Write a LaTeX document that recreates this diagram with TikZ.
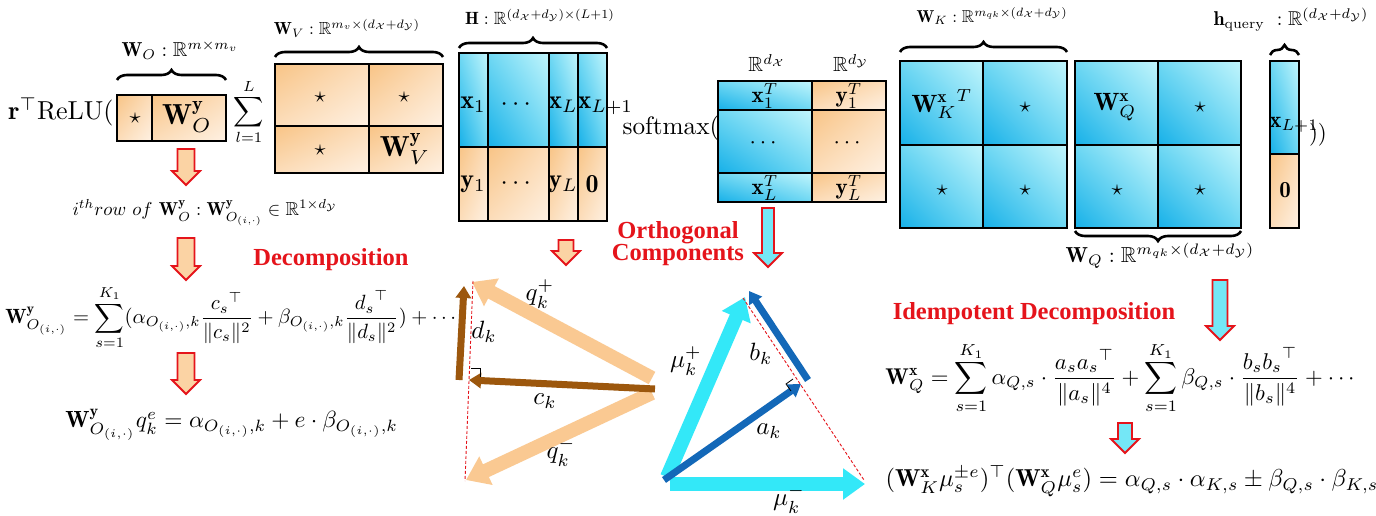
\RequirePackage{fix-cm}
\documentclass[tikz,border=0pt]{standalone}
\usepackage{amsmath,amssymb}
\usepackage{fontspec}
\newfontfamily\tnr{Liberation Serif}
\usetikzlibrary{arrows.meta,decorations.pathreplacing,shadings}
\definecolor{oD}{HTML}{F8C486}
\definecolor{oM}{HTML}{FCDDBA}
\definecolor{oL}{HTML}{FEF1E3}
\definecolor{bD}{HTML}{16B0E8}
\definecolor{bM}{HTML}{6FD8F3}
\definecolor{bL}{HTML}{C2F5FC}
\definecolor{myred}{HTML}{E5141B}
\definecolor{vor}{HTML}{FAC992}
\definecolor{vbr}{HTML}{9C570D}
\definecolor{vcy}{HTML}{33E8F8}
\definecolor{vbl}{HTML}{1368B8}
\definecolor{afo}{HTML}{FBD3A4}
\definecolor{afc}{HTML}{74E7F6}
\newcommand{\Bw}{\mathbf{W}}
\newcommand{\Oi}{O_{(i,\cdot)}}
\newcommand{\dX}{d_{\mathcal{X}}}
\newcommand{\dY}{d_{\mathcal{Y}}}
\newcommand{\blockarr}[5]{%
  \draw[myred, line width=1.8pt, fill=#5]
   (#1-#4/2,#2) -- (#1+#4/2,#2) -- (#1+#4/2,#3-14) -- (#1+14,#3-14) -- (#1,#3)
   -- (#1-14,#3-14) -- (#1-#4/2,#3-14) -- cycle;}
\tikzset{
  ocell/.style={draw=black, line width=1.3pt, shade, upper left=oD, lower right=oL, upper right=oM, lower left=oM},
  bcell/.style={draw=black, line width=1.3pt, shade, lower left=bD, upper right=bL, upper left=bM, lower right=bM},
  fs/.style={inner sep=0pt, font=\fontsize{10}{12}\selectfont, scale=#1/10},
  redt/.style={inner sep=0pt, text=myred, font=\fontsize{24.5}{22}\selectfont\tnr\bfseries, align=center},
  brc/.style={decorate, decoration={brace, amplitude=10pt}, line width=2.6pt},
  oarr/.style={draw=vor, line width=14pt, -{Triangle[width=30pt,length=22pt]}},
  carr/.style={draw=vcy, line width=14pt, -{Triangle[width=30pt,length=22pt]}},
  brarr/.style={draw=vbr, line width=7pt, -{Triangle[width=15pt,length=12pt]}},
  blarr/.style={draw=vbl, line width=7pt, -{Triangle[width=15pt,length=12pt]}},
  rdash/.style={draw=myred, line width=0.9pt, dash pattern=on 3pt off 2pt},
}
\begin{document}
\begin{tikzpicture}[x=1pt,y=-1pt]
\useasboundingbox[fill=white] (0,0) rectangle (1376,516);

% ---------- left part: r ReLU( W_O sum W_V
\node[fs=26] (relu) at (61,112) {$\mathbf{r}^{\top}\mathrm{ReLU}($};
\path[ocell] (117,95) rectangle (152,141);
\path[ocell] (152,95) rectangle (226,141);
\node[fs=22] (wo1) at (135,118) {$\star$};
\node[fs=29] (wo2) at (187,117) {$\Bw^{\mathbf{y}}_O$};
\draw[brc] (117,80) -- (226,80);
\node[fs=20.2] (wol) at (180,50) {$\Bw_O:\mathbb{R}^{m\times m_v}$};
\node[fs=21] (sum1) at (249,112) {$\displaystyle\sum_{l=1}^{L}$};

\path[ocell] (275,64) rectangle (369,126);
\path[ocell] (369,64) rectangle (443,126);
\path[ocell] (275,126) rectangle (369,173);
\path[ocell] (369,126) rectangle (443,173);
\node[fs=22] (wv1) at (320,97) {$\star$};
\node[fs=22] (wv2) at (404,97) {$\star$};
\node[fs=22] (wv3) at (320,150) {$\star$};
\node[fs=29] (wv4) at (405,149) {$\Bw^{\mathbf{y}}_V$};
\draw[brc] (275,57) -- (443,57);
\node[fs=17.5] (wvl) at (347,28) {$\Bw_V:\mathbb{R}^{m_v\times(\dX+\dY)}$};

% ---------- H
\path[bcell] (459,53) rectangle (488,147);
\path[bcell] (488,53) rectangle (549,147);
\path[bcell] (549,53) rectangle (578,147);
\path[bcell] (578,53) rectangle (607,147);
\path[ocell] (459,147) rectangle (488,221);
\path[ocell] (488,147) rectangle (549,221);
\path[ocell] (549,147) rectangle (578,221);
\path[ocell] (578,147) rectangle (607,221);
\node[fs=26] (h1) at (473,105) {$\mathbf{x}_1$};
\node[fs=26] (h2) at (518,105) {$\cdots$};
\node[fs=26] (h3) at (563,105) {$\mathbf{x}_L$};
\node[fs=26, anchor=west] (h4) at (577,106) {$\mathbf{x}_{L+1}$};
\node[fs=26] (h5) at (473,184) {$\mathbf{y}_1$};
\node[fs=26] (h6) at (518,184) {$\cdots$};
\node[fs=26] (h7) at (563,184) {$\mathbf{y}_L$};
\node[fs=26] (h8) at (592,184) {$\mathbf{0}$};
\draw[brc] (459,48) -- (607,48);
\node[fs=17.7] (hl) at (540,17) {$\mathbf{H}:\mathbb{R}^{(\dX+\dY)\times(L+1)}$};

% ---------- softmax
\node[fs=25.2] (smax) at (671,128) {softmax(};
\path[bcell] (718,81) rectangle (812,110);
\path[bcell] (718,110) rectangle (812,173);
\path[bcell] (718,173) rectangle (812,202);
\path[ocell] (812,81) rectangle (886,110);
\path[ocell] (812,110) rectangle (886,173);
\path[ocell] (812,173) rectangle (886,202);
\node[fs=23] (s1) at (765,96) {$\mathbf{x}_1^T$};
\node[fs=23] (s2) at (849,96) {$\mathbf{y}_1^T$};
\node[fs=23] (s3) at (765,143) {$\cdots$};
\node[fs=23] (s4) at (849,143) {$\cdots$};
\node[fs=23] (s5) at (765,188) {$\mathbf{x}_L^T$};
\node[fs=23] (s6) at (849,188) {$\mathbf{y}_L^T$};
\node[fs=20.5] (sx) at (767,63) {$\mathbb{R}^{\dX}$};
\node[fs=20.5] (sy) at (851,63) {$\mathbb{R}^{\dY}$};

% ---------- W_K, W_Q, h_query
\path[bcell] (900,61) rectangle (983,145);
\path[bcell] (983,61) rectangle (1067,145);
\path[bcell] (900,145) rectangle (983,228);
\path[bcell] (983,145) rectangle (1067,228);
\node[fs=25] (k1) at (942,104) {${\Bw^{\mathbf{x}}_K}^T$};
\node[fs=22] (k2) at (1025,107) {$\star$};
\node[fs=22] (k3) at (942,190) {$\star$};
\node[fs=22] (k4) at (1025,190) {$\star$};
\draw[brc] (900,52) -- (1067,52);
\node[fs=17.2] (kl) at (992,16) {$\Bw_K:\mathbb{R}^{m_{qk}\times(\dX+\dY)}$};

\path[bcell] (1075,61) rectangle (1158,145);
\path[bcell] (1158,61) rectangle (1241,145);
\path[bcell] (1075,145) rectangle (1158,228);
\path[bcell] (1158,145) rectangle (1241,228);
\node[fs=25] (q1) at (1115,107) {$\Bw^{\mathbf{x}}_Q$};
\node[fs=22] (q2) at (1200,107) {$\star$};
\node[fs=22] (q3) at (1117,190) {$\star$};
\node[fs=22] (q4) at (1200,190) {$\star$};
\draw[brc] (1241,231) -- (1075,231);
\node[fs=21.7] (ql) at (1160,256) {$\Bw_Q:\mathbb{R}^{m_{qk}\times(\dX+\dY)}$};

\path[bcell] (1270,61) rectangle (1299,154);
\path[ocell] (1270,154) rectangle (1299,228);
\node[fs=23, anchor=west] (hq1) at (1269,125) {$\mathbf{x}_{L+1}$};
\node[fs=23] (hq3) at (1318,135) {$))$};
\node[fs=23] (hq2) at (1285,190) {$\mathbf{0}$};
\draw[brc] (1270,55) -- (1299,55);
\node[fs=20] (hql) at (1291,20) {$\mathbf{h}_{\text{query}}\ :\mathbb{R}^{(\dX+\dY)}$};

% ---------- left equations
\blockarr{186}{149}{185}{17}{afo}
\node[fs=18.7] (e1) at (205,213) {$i^{th}row\ of\ \Bw^{\mathbf{y}}_O:\Bw^{\mathbf{y}}_{\Oi}\in\mathbb{R}^{1\times\dY}$};
\blockarr{186}{238}{280}{17}{afo}
\node[redt] (dec) at (331,260) {Decomposition};
\node[fs=20.6, anchor=west] (e2) at (5,318) {$\displaystyle \Bw^{\mathbf{y}}_{\Oi}=\sum_{s=1}^{K_1}(\alpha_{\Oi,k}\frac{{c_s}^{\top}}{\|c_s\|^2}+\beta_{\Oi,k}\frac{{d_s}^{\top}}{\|d_s\|^2})+\cdots$};
\blockarr{186}{353}{394}{17}{afo}
\node[fs=23.4, anchor=west] (e3) at (65,425) {$\Bw^{\mathbf{y}}_{\Oi}q_k^e=\alpha_{\Oi,k}+e\cdot\beta_{\Oi,k}$};

% ---------- middle arrows and text
\blockarr{566}{240}{265}{15}{afo}
\blockarr{768}{208}{267}{12}{afc}
\node[redt] (orth) at (678,244) {Orthogonal\\Components};

% ---------- left vector diagram
\coordinate (qp) at (472,282);
\coordinate (qm) at (466,480);
\coordinate (o1a) at (652,378);
\coordinate (o1b) at (652,393);
\draw[oarr] (o1a) -- (qp);
\draw[oarr] (o1b) -- (qm);
\draw[rdash] (473,281) -- (465,481);
\coordinate (cs) at (655,389);
\coordinate (ct) at (469,380);
\draw[brarr] (cs) -- (ct);
\coordinate (ds) at (459,380);
\coordinate (dt) at (464,286);
\draw[brarr] (ds) -- (dt);
\draw[line width=0.8pt] (471,368) -- (480,368) -- (480,377);
\node[fs=25] (lqp) at (540,294) {$q_k^{+}$};
\node[fs=25] (ldk) at (484,332) {$d_k$};
\node[fs=25] (lck) at (545,401) {$c_k$};
\node[fs=25] (lqm) at (561,452) {$q_k^{-}$};

% ---------- right vector diagram
\coordinate (o2) at (667,477);
\coordinate (mp) at (745,297);
\coordinate (o2b) at (670,484);
\coordinate (mm) at (865,484);
\draw[carr] (o2) -- (mp);
\draw[carr] (o2b) -- (mm);
\draw[rdash] (743,298) -- (864,480);
\coordinate (as) at (664,480);
\coordinate (at) at (801,384);
\draw[blarr] (as) -- (at);
\coordinate (bs) at (808,380);
\coordinate (bt) at (749,291);
\draw[blarr] (bs) -- (bt);
\draw[line width=0.8pt] (791,391) -- (786,384) -- (793,379);
\node[fs=25] (lmp) at (686,361) {$\mu_k^{+}$};
\node[fs=25] (lbk) at (761,354) {$b_k$};
\node[fs=25] (lak) at (769,431) {$a_k$};
\node[fs=25] (lmm) at (789,499) {$\mu_k^{-}$};

% ---------- right equations
\blockarr{1220}{280}{340}{15}{afc}
\node[redt] (idem) at (1034,314) {Idempotent Decomposition};
\node[fs=22.8, anchor=west] (e4) at (885,378) {$\displaystyle \Bw^{\mathbf{x}}_Q=\sum_{s=1}^{K_1}\alpha_{Q,s}\cdot\frac{a_s{a_s}^{\top}}{\|a_s\|^4}+\sum_{s=1}^{K_1}\beta_{Q,s}\cdot\frac{b_s{b_s}^{\top}}{\|b_s\|^4}+\cdots$};
\blockarr{1125}{423}{453}{14}{afc}
\node[fs=24.5, anchor=west] (e5) at (885,481) {$(\Bw^{\mathbf{x}}_K\mu_s^{\pm e})^{\top}(\Bw^{\mathbf{x}}_Q\mu_s^{e})=\alpha_{Q,s}\cdot\alpha_{K,s}\pm\beta_{Q,s}\cdot\beta_{K,s}$};
\end{tikzpicture}
\end{document}
